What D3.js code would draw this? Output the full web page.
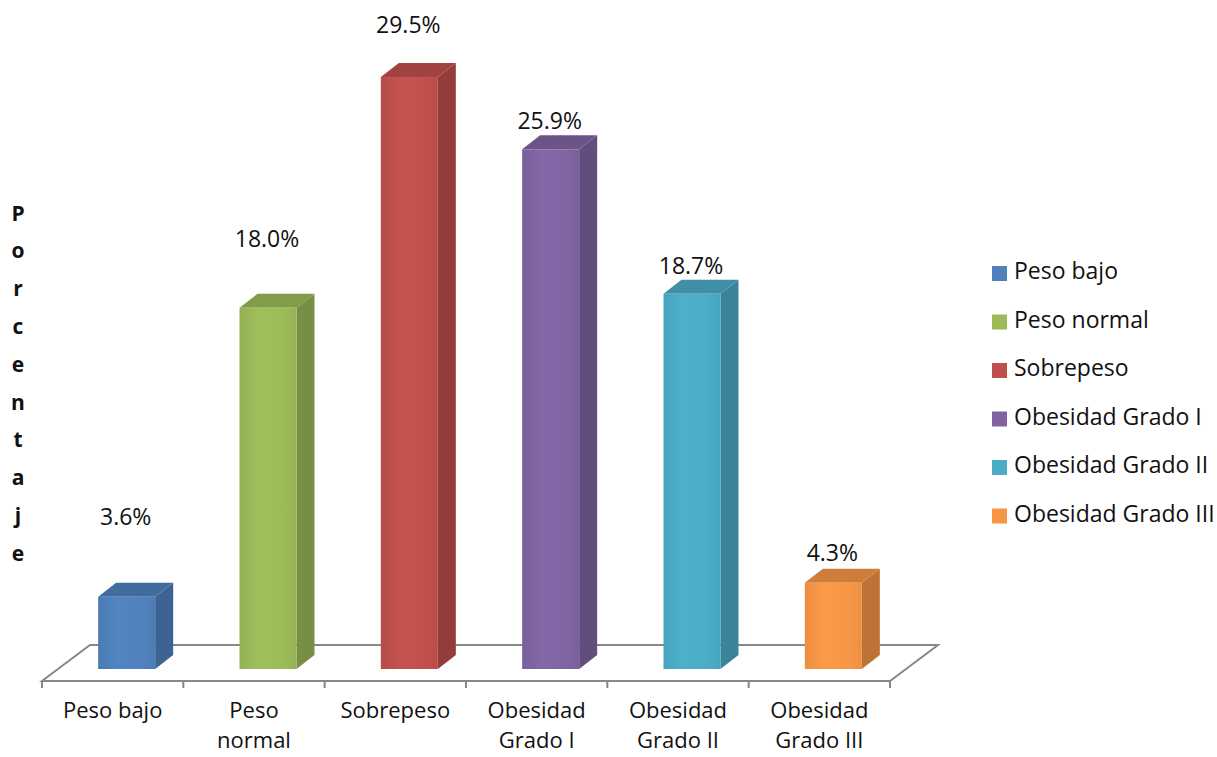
<!DOCTYPE html>
<html>
<head>
<meta charset="utf-8">
<script src="https://cdn.jsdelivr.net/npm/d3@7"></script>
<style>
  html, body { margin: 0; padding: 0; background: #ffffff; }
  svg { display: block; }
  text { font-family: "Open Sans", Lato, sans-serif; fill: #111; }
</style>
</head>
<body>
<svg id="chart" width="1217" height="757"></svg>
<script>
// Categories and their percentages
const categories = ["Peso bajo", "Peso normal", "Sobrepeso", "Obesidad Grado I", "Obesidad Grado II", "Obesidad Grado III"];
const axisLabels = [["Peso bajo"], ["Peso", "normal"], ["Sobrepeso"], ["Obesidad", "Grado I"], ["Obesidad", "Grado II"], ["Obesidad", "Grado III"]];
const values = [3.6, 18.0, 29.5, 25.9, 18.7, 4.3];
const valueLabels = ["3.6%", "18.0%", "29.5%", "25.9%", "18.7%", "4.3%"];
const frontColors = ["#4f81bd", "#9bbb59", "#c0504d", "#8064a2", "#4bacc6", "#f79646"];
const axisTitle = "Porcentaje";

// Layout
const floorLeft = 42, floorRight = 890, floorFront = 681;
const depthX = 48, depthY = -36;      // full floor depth
const barW = 57, barDX = 18, barDY = -14; // bar size and its own depth
const barShift = 14, barBase = 669;   // bars sit a bit back on the floor
const labelLift = [78, 67, 50, 26, 26, 28];
const fontSize = 23;

const svg = d3.select("#chart");
const x = d3.scaleBand().domain(categories).range([floorLeft, floorRight]).padding(0);
const y = d3.scaleLinear().domain([0, 30]).range([barBase, barBase - 602]);

const defs = svg.append("defs");
frontColors.forEach((c, i) => {
  const g = defs.append("linearGradient").attr("id", "front" + i)
    .attr("x1", "0").attr("x2", "1").attr("y1", "0").attr("y2", "0");
  const base = d3.color(c);
  g.append("stop").attr("offset", "0%").attr("stop-color", base.darker(0.15));
  g.append("stop").attr("offset", "35%").attr("stop-color", base.brighter(0.08));
  g.append("stop").attr("offset", "80%").attr("stop-color", base);
  g.append("stop").attr("offset", "100%").attr("stop-color", base.darker(0.12));
});

// Floor
const floor = svg.append("g").attr("stroke", "#888").attr("stroke-width", 2).attr("fill", "none");
floor.append("path").attr("d",
  `M${floorLeft},${floorFront} L${floorRight},${floorFront} L${floorRight + depthX},${floorFront + depthY} L${floorLeft + depthX},${floorFront + depthY} Z`);
// Category tick marks on the front edge
const tickPos = categories.map(c => x(c)).concat([floorRight]);
floor.selectAll("line.tick").data(tickPos).join("line")
  .attr("x1", d => d).attr("x2", d => d)
  .attr("y1", floorFront).attr("y2", floorFront + 7);

// Bars
const bars = svg.append("g");
categories.forEach((c, i) => {
  const x0 = x(c) + x.bandwidth() / 2 - barW / 2 + barShift;
  const x1 = x0 + barW;
  const yt = y(values[i]);
  const yb = y(0);
  const base = d3.color(frontColors[i]);
  const g = bars.append("g");
  // right side
  g.append("path")
    .attr("d", `M${x1},${yb} L${x1 + barDX},${yb + barDY} L${x1 + barDX},${yt + barDY} L${x1},${yt} Z`)
    .attr("fill", base.darker(0.75));
  // top
  g.append("path")
    .attr("d", `M${x0},${yt} L${x1},${yt} L${x1 + barDX},${yt + barDY} L${x0 + barDX},${yt + barDY} Z`)
    .attr("fill", base.darker(0.5));
  // front
  g.append("rect")
    .attr("x", x0).attr("y", yt).attr("width", barW).attr("height", yb - yt)
    .attr("fill", `url(#front${i})`);
  // value label
  svg.append("text")
    .attr("x", x0 + barW / 2 - 1)
    .attr("y", yt - labelLift[i])
    .attr("text-anchor", "middle")
    .attr("dominant-baseline", "middle")
    .attr("font-size", fontSize)
    .text(valueLabels[i]);
});

// Category labels
axisLabels.forEach((lines, i) => {
  const cx = x(categories[i]) + x.bandwidth() / 2;
  const t = svg.append("text").attr("text-anchor", "middle").attr("font-size", 22);
  lines.forEach((ln, j) => {
    t.append("tspan").attr("x", cx).attr("y", 718 + j * 30).text(ln);
  });
});

// Vertical axis title, one letter per line
svg.append("g").selectAll("text").data(axisTitle.split("")).join("text")
  .attr("x", 18).attr("y", (d, i) => 215 + i * 37.8)
  .attr("text-anchor", "middle").attr("dominant-baseline", "middle")
  .attr("font-size", 21).attr("font-weight", "bold")
  .text(d => d);

// Legend
const legend = svg.append("g").attr("transform", "translate(992,273)");
categories.forEach((c, i) => {
  const row = legend.append("g").attr("transform", `translate(0,${i * 48.5})`);
  row.append("rect").attr("x", 0).attr("y", -7).attr("width", 15).attr("height", 15).attr("fill", frontColors[i]);
  row.append("text").attr("x", 22).attr("y", 0).attr("dominant-baseline", "middle")
    .attr("font-size", fontSize).text(c);
});
</script>
</body>
</html>
